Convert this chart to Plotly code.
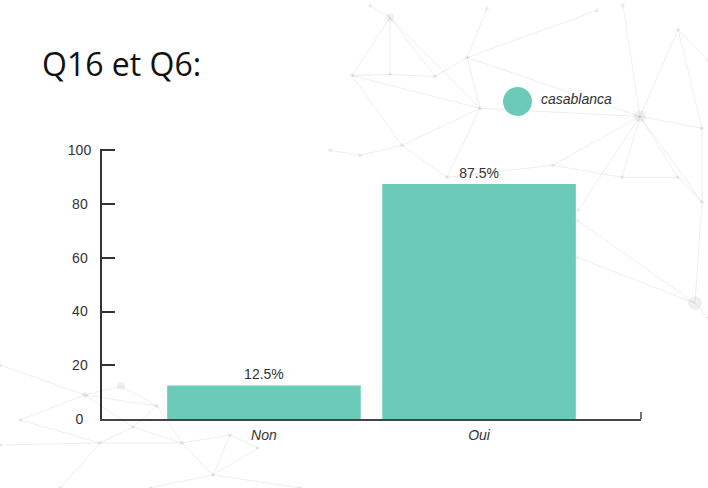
import plotly.graph_objects as go

# ---- data ----
categories = ["Non", "Oui"]
values = [12.5, 87.5]
series_name = "casablanca"
y_ticks = [0, 20, 40, 60, 80, 100]
y_tick_labels = ["0\u2007", "20\u2005", "40\u2005", "60\u2005", "80\u2005", "100"]
title_text = "Q16 et Q6:"

BAR_COLOR = "#6ccab9"
TEXT = "#333333"

W, H = 708, 488
Y_MAX = 100.5
L, R, B = 102, 67, 69
PH = 269 * Y_MAX / 100
T = H - B - PH
PW = W - L - R


def px(x):
    return (x - L) / PW


def py(y):
    return (H - B - y) / PH


fig = go.Figure()
fig.add_trace(go.Bar(
    x=categories, y=values, name=series_name,
    marker=dict(color=BAR_COLOR, line=dict(width=0)),
    width=0.9,
    text=[f"{v}%" for v in values], textposition="outside",
    textfont=dict(family="Liberation Sans, Arial", size=14, color=TEXT),
    cliponaxis=False, showlegend=False,
))

# ---- faint decorative network in the background ----
nodes = {
    "A": (390, 17), "B": (467, 57), "C": (352, 75), "D": (390, 74), "E": (435, 76),
    "F": (480, 108), "G": (640, 116), "H": (678, 29), "I": (702, 128), "J": (402, 145),
    "K": (360, 155), "Lq": (447, 177), "M": (553, 165), "N": (622, 177), "O": (678, 177),
    "P": (702, 202), "Q": (695, 303), "S": (577, 257), "T0": (623, 5), "T1": (487, 8),
    "T2": (597, 10), "T3": (708, 60), "T4": (330, 150), "T5": (578, 210), "T6": (708, 318),
    "U": (370, 5), "V": (577, 220),
    "a": (85, 395), "b": (121, 386), "c": (157, 406), "d": (133, 427), "e": (100, 443),
    "f": (182, 443), "g": (230, 435), "h": (258, 448), "i": (213, 475), "j": (0, 365),
    "k": (0, 445), "l": (60, 488), "m": (300, 488), "n": (20, 420), "o": (150, 488),
}
edges = [
    ("A", "C"), ("A", "D"), ("A", "E"), ("A", "F"), ("A", "U"), ("C", "D"), ("D", "E"),
    ("C", "J"), ("C", "F"), ("B", "T1"), ("B", "T2"), ("B", "G"), ("B", "E"), ("B", "F"),
    ("F", "J"), ("F", "G"), ("F", "Lq"), ("J", "K"), ("J", "Lq"), ("K", "T4"),
    ("G", "T0"), ("G", "H"), ("H", "T3"), ("G", "I"), ("G", "N"), ("G", "O"), ("G", "M"),
    ("G", "P"), ("G", "T5"), ("I", "P"), ("O", "P"), ("N", "O"), ("M", "Lq"), ("H", "I"),
    ("P", "Q"), ("S", "Q"), ("V", "Q"), ("Q", "T6"), ("M", "N"),
    ("j", "a"), ("a", "b"), ("b", "c"), ("a", "c"), ("a", "d"), ("c", "d"), ("d", "e"),
    ("e", "f"), ("c", "f"), ("f", "g"), ("g", "h"), ("f", "i"), ("g", "i"), ("i", "h"),
    ("e", "k"), ("e", "l"), ("i", "m"), ("n", "a"), ("n", "e"), ("i", "o"), ("d", "f"),
]
shapes = []
for a, b in edges:
    (x0, y0), (x1, y1) = nodes[a], nodes[b]
    shapes.append(dict(type="line", xref="paper", yref="paper", layer="below",
                       x0=px(x0), y0=py(y0), x1=px(x1), y1=py(y1),
                       line=dict(color="rgba(0,0,0,0.07)", width=1)))
big = {"A": 4, "G": 6, "Q": 7, "b": 4, "a": 3}
for k, (x, y) in nodes.items():
    r = big.get(k, 2)
    shapes.append(dict(type="circle", xref="paper", yref="paper", layer="below",
                       x0=px(x - r), x1=px(x + r), y0=py(y + r), y1=py(y - r),
                       fillcolor="rgba(0,0,0,0.06)", line=dict(width=0)))

# legend symbol (circle) and end tick of the x axis
cx, cy, cr = 517.5, 101, 14.5
shapes.append(dict(type="circle", xref="paper", yref="paper",
                   x0=px(cx - cr), x1=px(cx + cr), y0=py(cy + cr), y1=py(cy - cr),
                   fillcolor=BAR_COLOR, line=dict(width=0)))
shapes.append(dict(type="line", xref="x domain", yref="paper",
                   x0=1, x1=1, y0=0, y1=py(H - B - 7),
                   line=dict(color="#444444", width=1.5)))

annotations = [
    dict(text=title_text, xref="paper", yref="paper", x=px(40), y=py(63),
         xanchor="left", yanchor="middle", showarrow=False,
         font=dict(family="Open Sans", size=32, color="#111111")),
    dict(text=series_name, xref="paper", yref="paper", x=px(539), y=py(99),
         xanchor="left", yanchor="middle", showarrow=False,
         font=dict(family="Liberation Sans, Arial", size=14, color=TEXT, style="italic")),
]

fig.update_layout(
    width=W, height=H,
    margin=dict(l=L, r=R, t=T, b=B),
    paper_bgcolor="white", plot_bgcolor="rgba(0,0,0,0)",
    shapes=shapes, annotations=annotations, showlegend=False,
    bargap=0.1,
    xaxis=dict(range=[-0.753, 1.753], showline=True, linecolor="#444444", linewidth=1.5,
               ticks="", showgrid=False, zeroline=False,
               tickfont=dict(family="Liberation Sans, Arial", size=14, color=TEXT, style="italic"),
               ticklabelstandoff=2),
    yaxis=dict(range=[0, Y_MAX], tickvals=y_ticks, ticktext=y_tick_labels,
               showline=True, linecolor="#333333", linewidth=2,
               ticks="inside", ticklen=13, tickwidth=1.5, tickcolor="#333333",
               showgrid=False, zeroline=False,
               tickfont=dict(family="Liberation Sans, Arial", size=14, color=TEXT),
               ticklabelstandoff=6),
)

fig.write_html("out.html")
